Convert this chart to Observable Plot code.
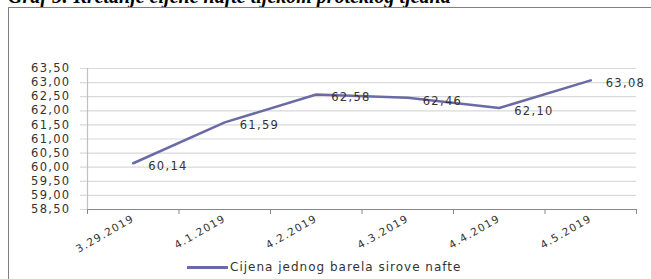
<!DOCTYPE html>
<html><head><meta charset="utf-8">
<script src="https://cdn.jsdelivr.net/npm/d3@7"></script>
<script src="https://cdn.jsdelivr.net/npm/@observablehq/plot@0.6"></script>
<style>
body{margin:0;background:#fff;width:651px;height:279px;overflow:hidden;position:relative;}
#title{position:absolute;left:8px;top:-14px;font:italic bold 20px "Liberation Serif",serif;line-height:20px;white-space:nowrap;color:#000;}
#frame{position:absolute;left:8px;top:7px;width:700px;height:300px;border:1px solid #7f7f7f;}
#chart{position:absolute;left:0;top:0;}
#legend{position:absolute;left:187px;top:259px;font:12px "DejaVu Sans",sans-serif;letter-spacing:1px;color:#333;white-space:nowrap;line-height:16px;}
#legend .sw{display:inline-block;width:41px;height:2.5px;background:#6a6aa6;vertical-align:middle;margin-right:2px;}
</style></head><body>
<div id="title">Graf 5: Kretanje cijene nafte tijekom proteklog tjedna</div>
<div id="frame"></div>
<div id="chart"></div>
<div id="legend"><span class="sw"></span>Cijena jednog barela sirove nafte</div>
<script>
const dates = ["3.29.2019","4.1.2019","4.2.2019","4.3.2019","4.4.2019","4.5.2019"];
const prices = [60.14, 61.59, 62.58, 62.46, 62.10, 63.08];
const yTicks = [58.5, 59, 59.5, 60, 60.5, 61, 61.5, 62, 62.5, 63, 63.5];
const seriesName = "Cijena jednog barela sirove nafte";

const data = dates.map((d, i) => ({date: d, i, price: prices[i]}));
const fmt = v => v.toFixed(2).replace(".", ",");
const xBounds = d3.range(dates.length + 1);
const xCenters = dates.map((d, i) => i + 0.5);

const chart = Plot.plot({
  width: 651, height: 279,
  marginLeft: 87, marginRight: 15, marginTop: 68, marginBottom: 70,
  x: {domain: [0, dates.length], axis: null},
  y: {domain: [yTicks[0], yTicks[yTicks.length - 1]], axis: null},
  style: {fontFamily: "DejaVu Sans", fontSize: "11.5px", color: "#333", overflow: "visible", background: "transparent", letterSpacing: "1.3px"},
  marks: [
    Plot.ruleY(yTicks, {insetLeft: -7, stroke: "#d9d9d9", strokeWidth: 1.2, strokeOpacity: 1}),
    Plot.ruleX([0], {stroke: "#c0c0c0", strokeWidth: 1.2}),
    Plot.ruleY([yTicks[0]], {stroke: "#888", strokeWidth: 1.2}),
    Plot.axisY({ticks: yTicks, tickSize: 0, tickPadding: 17, tickFormat: fmt, label: null}),
    Plot.axisX({ticks: xBounds, tickFormat: () => "", tickSize: 5, stroke: "#888", label: null}),
    Plot.axisX({ticks: xCenters, tickSize: 0, tickPadding: 8, tickRotate: -30, tickFormat: v => dates[Math.floor(v)], label: null, fontSize: "10.5px"}),
    Plot.line(data, {x: d => d.i + 0.5, y: "price", stroke: "#6a6aa6", strokeWidth: 2.5}),
    Plot.text(data, {x: d => d.i + 0.5, y: "price", text: d => fmt(d.price), textAnchor: "start", dx: 15, dy: 3, fill: "#333"})
  ]
});
document.getElementById("chart").append(chart);
</script>
</body></html>
